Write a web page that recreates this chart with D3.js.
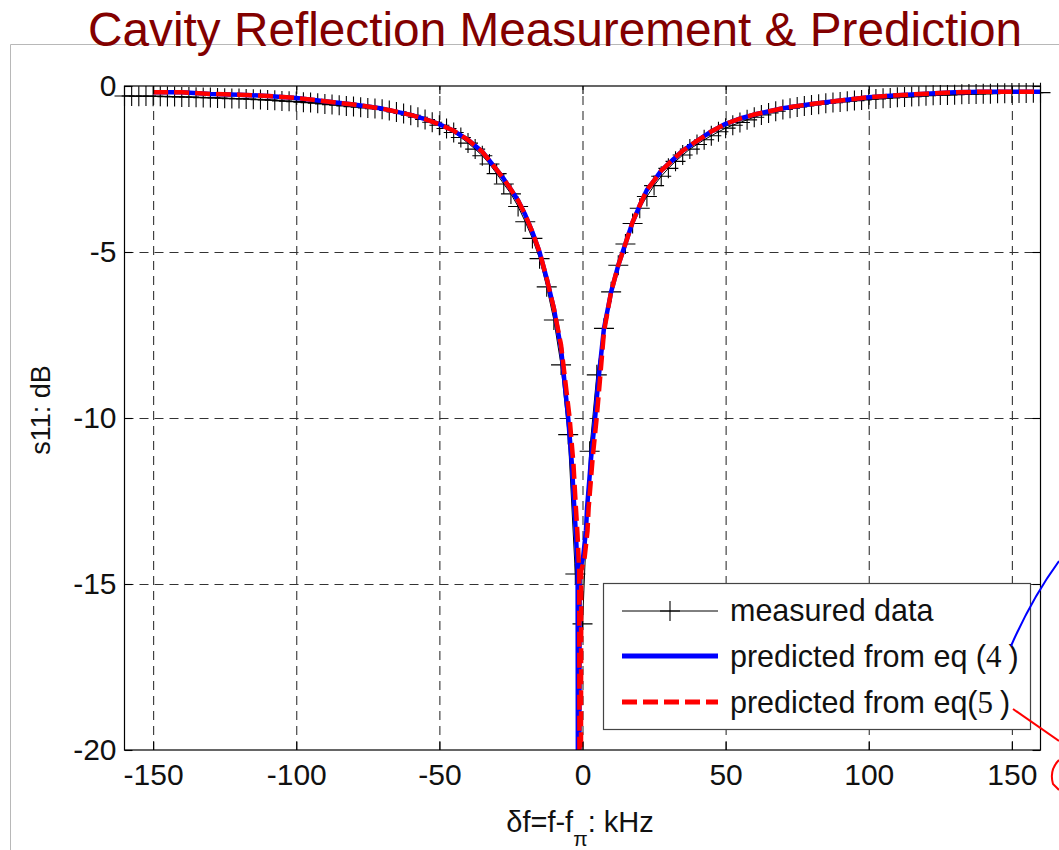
<!DOCTYPE html>
<html>
<head>
<meta charset="utf-8">
<script src="https://cdn.jsdelivr.net/npm/d3@7"></script>
<style>
  body { margin: 0; background: #fff; }
  svg { display: block; }
  text { font-family: "Liberation Sans", Arial, Helvetica, sans-serif; }
</style>
</head>
<body>
<svg id="chart" width="1059" height="850"></svg>
<script>
// ---- tick values ----
const xTicks = [-150, -100, -50, 0, 50, 100, 150];
const yTicks = [0, -5, -10, -15, -20];

// ---- measured reflection s11 (dB) vs frequency offset (kHz) ----
const measuredFreq = [-160,-157.5,-155,-152.5,-150,-147.5,-145,-142.5,-140,-137.5,-135,-132.5,-130,-127.5,-125,-122.5,-120,-117.5,-115,-112.5,-110,-107.5,-105,-102.5,-100,-97.5,-95,-92.5,-90,-87.5,-85,-82.5,-80,-77.5,-75,-72.5,-70,-67.5,-65,-62.5,-60,-57.5,-55,-52.5,-50,-47.5,-45,-42.5,-40,-37.5,-35,-32.5,-30,-27.5,-25,-22.5,-20,-17.5,-15,-12.5,-10,-7.5,-5,-2.5,0,2.5,5,7.5,10,12.5,15,17.5,20,22.5,25,27.5,30,32.5,35,37.5,40,42.5,45,47.5,50,52.5,55,57.5,60,62.5,65,67.5,70,72.5,75,77.5,80,82.5,85,87.5,90,92.5,95,97.5,100,102.5,105,107.5,110,112.5,115,117.5,120,122.5,125,127.5,130,132.5,135,137.5,140,142.5,145,147.5,150,152.5,155,157.5,160];
const measuredDb = [-0.30,-0.30,-0.31,-0.30,-0.31,-0.31,-0.32,-0.32,-0.33,-0.33,-0.34,-0.35,-0.35,-0.36,-0.37,-0.38,-0.38,-0.39,-0.40,-0.41,-0.42,-0.43,-0.45,-0.46,-0.47,-0.49,-0.50,-0.52,-0.54,-0.56,-0.58,-0.60,-0.62,-0.64,-0.66,-0.68,-0.70,
  -0.74,-0.78,-0.83,-0.88,-0.94,-1.01,-1.09,-1.18,-1.28,-1.40,-1.55,-1.72,-1.90,-2.10,-2.35,-2.64,-2.95,-3.25,-3.63,-4.09,-4.59,-5.20,-6.05,-7.05,-8.40,-10.50,-14.70,
  -16.20,
  -11.00,-8.70,-7.30,-6.20,-5.40,-4.76,-4.14,-3.68,-3.33,-3.00,-2.72,-2.48,-2.27,-2.08,-1.90,-1.76,-1.62,-1.50,-1.38,-1.27,-1.18,-1.10,-1.02,-0.94,-0.87,-0.81,-0.76,-0.71,-0.67,-0.63,-0.60,-0.57,-0.55,-0.52,-0.50,-0.48,-0.46,-0.44,-0.42,-0.40,-0.39,-0.37,-0.36,-0.34,-0.33,-0.32,-0.31,-0.29,-0.28,-0.27,-0.27,-0.26,-0.25,-0.24,-0.24,-0.23,-0.23,-0.22,-0.22,-0.21,-0.21,-0.21,-0.20,-0.20];

// ---- prediction from eq (4) ----
const eq4Freq = [-150,-140,-130,-120,-110,-100,-90,-80,-70,-60,-55,-50,-45,-40,-35,-30,-27.5,-25,-22.5,-20,-17.5,-15,-12.5,-10,-7.5,-5,-3.7,-3,-2.3,-1.7,-1.35,-1.0,0.2,1.2,1.6,3.0,4.4,5.5,7.5,10,12.5,15,17.5,20,22.5,25,27.5,30,35,40,45,50,55,60,70,80,90,100,110,120,130,140,150,160];
const eq4Db = [-0.19,-0.19,-0.24,-0.26,-0.30,-0.36,-0.46,-0.56,-0.68,-0.87,-1.00,-1.15,-1.35,-1.62,-1.98,-2.52,-2.80,-3.12,-3.45,-3.88,-4.40,-5.00,-5.80,-6.70,-7.90,-10.00,-11.40,-12.50,-13.50,-14.60,-40,-14.60,-14.20,-13.40,-12.70,-11.20,-10.00,-8.90,-7.30,-6.20,-5.40,-4.75,-4.10,-3.60,-3.13,-2.85,-2.55,-2.35,-1.95,-1.65,-1.37,-1.14,-0.98,-0.86,-0.67,-0.54,-0.44,-0.34,-0.28,-0.23,-0.19,-0.17,-0.17,-0.17];

// ---- prediction from eq (5) ----
const eq5Freq = [-150,-140,-130,-120,-110,-100,-90,-80,-70,-60,-55,-50,-45,-40,-35,-30,-27.5,-25,-22.5,-20,-17.5,-15,-12.5,-10,-7.5,-4.5,-3.15,-2.45,-1.75,-1.15,-0.8,-0.45,0.75,1.75,2.15,3.55,4.95,6.05,7.5,10,12.5,15,17.5,20,22.5,25,27.5,30,35,40,45,50,55,60,70,80,90,100,110,120,130,140,150,160];
const eq5Db = [-0.19,-0.19,-0.24,-0.26,-0.30,-0.36,-0.46,-0.56,-0.68,-0.87,-1.00,-1.15,-1.35,-1.62,-1.98,-2.52,-2.80,-3.12,-3.45,-3.88,-4.40,-5.00,-5.80,-6.70,-7.80,-10.00,-11.40,-12.50,-13.50,-14.60,-40,-14.60,-14.20,-13.40,-12.70,-11.20,-10.00,-8.90,-7.40,-6.20,-5.40,-4.75,-4.10,-3.60,-3.13,-2.85,-2.55,-2.35,-1.95,-1.65,-1.37,-1.14,-0.98,-0.86,-0.67,-0.54,-0.44,-0.34,-0.28,-0.23,-0.19,-0.17,-0.17,-0.17];

const legendLabels = ["measured data", "predicted from eq (", "predicted from eq("];

// ---- layout ----
const svg = d3.select("#chart");
const plot = { left: 124.5, right: 1040.5, top: 86, bottom: 750 };

const x = d3.scaleLinear().domain([-160, 160]).range([plot.left, plot.right]);
const y = d3.scaleLinear().domain([-20, 0]).range([plot.bottom, plot.top]);

const measured = d3.zip(measuredFreq, measuredDb);
const eq4 = d3.zip(eq4Freq, eq4Db);
const eq5 = d3.zip(eq5Freq, eq5Db);

// slide frame lines
svg.append("line").attr("x1", 10.5).attr("x2", 10.5).attr("y1", 44.5).attr("y2", 850)
  .attr("stroke", "#b8b8b8").attr("stroke-width", 1);
svg.append("line").attr("x1", 10.5).attr("x2", 1059).attr("y1", 44.5).attr("y2", 44.5)
  .attr("stroke", "#b8b8b8").attr("stroke-width", 1);

// title
svg.append("text")
  .attr("x", 555).attr("y", 46)
  .attr("text-anchor", "middle")
  .attr("font-size", 47.5)
  .attr("fill", "#820000")
  .attr("textLength", 934).attr("lengthAdjust", "spacingAndGlyphs")
  .text("Cavity Reflection Measurement & Prediction");

// clip region for the plotted curves
svg.append("defs").append("clipPath").attr("id", "plotClip")
  .append("rect")
  .attr("x", plot.left).attr("y", plot.top)
  .attr("width", plot.right - plot.left).attr("height", plot.bottom - plot.top);

// white plot background
svg.append("rect")
  .attr("x", plot.left).attr("y", plot.top)
  .attr("width", plot.right - plot.left).attr("height", plot.bottom - plot.top)
  .attr("fill", "#fff");

// dashed grid
const gridStyle = g => {
  g.select(".domain").remove();
  g.selectAll(".tick line").attr("stroke", "#333").attr("stroke-width", 1.1).attr("stroke-dasharray", "9,6");
  g.selectAll(".tick text").remove();
};
svg.append("g")
  .attr("transform", `translate(0,${plot.bottom})`)
  .call(d3.axisBottom(x).tickValues(xTicks).tickSize(-(plot.bottom - plot.top)).tickFormat(""))
  .call(gridStyle);
svg.append("g")
  .attr("transform", `translate(${plot.left},0)`)
  .call(d3.axisLeft(y).tickValues(yTicks.slice(1, -1)).tickSize(-(plot.right - plot.left)).tickFormat(""))
  .call(gridStyle);

// measured data: thin black line with '+' markers
const line = d3.line().x(d => x(d[0])).y(d => y(d[1]));
svg.append("path")
  .datum(measured)
  .attr("d", line)
  .attr("fill", "none").attr("stroke", "#000").attr("stroke-width", 1);
const plusPath = "M-10,0H10M0,-10V10";
svg.append("g").selectAll("path")
  .data(measured)
  .join("path")
  .attr("transform", d => `translate(${x(d[0])},${y(d[1])})`)
  .attr("d", plusPath)
  .attr("fill", "none").attr("stroke", "#000").attr("stroke-width", 1.1);

// predictions
const curves = svg.append("g").attr("clip-path", "url(#plotClip)");
curves.append("path")
  .datum(eq4)
  .attr("d", line)
  .attr("fill", "none").attr("stroke", "#0000ff").attr("stroke-width", 4.5)
  .attr("stroke-linejoin", "round");
curves.append("path")
  .datum(eq5)
  .attr("d", line)
  .attr("fill", "none").attr("stroke", "#ff0000").attr("stroke-width", 4.5)
  .attr("stroke-dasharray", "15,6");

// axes box
svg.append("rect")
  .attr("x", plot.left).attr("y", plot.top)
  .attr("width", plot.right - plot.left).attr("height", plot.bottom - plot.top)
  .attr("fill", "none").attr("stroke", "#000").attr("stroke-width", 1.2);

// axes with inward ticks and labels
const axisFont = g => {
  g.select(".domain").remove();
  g.selectAll(".tick line").attr("stroke", "#000").attr("stroke-width", 1.1);
  g.selectAll(".tick text").attr("fill", "#111")
    .attr("font-size", 30).attr("font-family", '"Liberation Sans", Arial, sans-serif');
};
svg.append("g")
  .attr("transform", `translate(0,${plot.bottom})`)
  .call(d3.axisBottom(x).tickValues(xTicks).tickSize(-8).tickPadding(14).tickFormat(d => String(d)))
  .call(axisFont);
svg.append("g")
  .attr("transform", `translate(0,${plot.top})`)
  .call(d3.axisTop(x).tickValues(xTicks).tickSize(-8).tickFormat(""))
  .call(axisFont);
svg.append("g")
  .attr("transform", `translate(${plot.left},0)`)
  .call(d3.axisLeft(y).tickValues(yTicks).tickSize(-8).tickPadding(8).tickFormat(d => String(d)))
  .call(axisFont);
svg.append("g")
  .attr("transform", `translate(${plot.right},0)`)
  .call(d3.axisRight(y).tickValues(yTicks).tickSize(-8).tickFormat(""))
  .call(axisFont);

// axis titles
svg.append("text")
  .attr("transform", "translate(50,410) rotate(-90)")
  .attr("text-anchor", "middle")
  .attr("font-size", 27).attr("fill", "#111")
  .text("s11: dB");

const xl = svg.append("text")
  .attr("x", 580).attr("y", 832)
  .attr("text-anchor", "middle")
  .attr("font-size", 29).attr("fill", "#111");
xl.append("tspan").text("δf=f-f");
xl.append("tspan").attr("dy", 14).attr("font-size", 21).text("π");
xl.append("tspan").attr("dy", -14).text(": kHz");

// legend
const lg = svg.append("g");
lg.append("rect")
  .attr("x", 603.5).attr("y", 583.5).attr("width", 427).attr("height", 146)
  .attr("fill", "#fff").attr("stroke", "#444").attr("stroke-width", 1.2);
const rows = [611, 656, 702];
const lx0 = 622, lx1 = 718, tx = 730;
// measured sample
lg.append("line").attr("x1", lx0).attr("x2", lx1).attr("y1", rows[0]).attr("y2", rows[0])
  .attr("stroke", "#000").attr("stroke-width", 1);
lg.append("path").attr("transform", `translate(${(lx0 + lx1) / 2},${rows[0]})`)
  .attr("d", plusPath).attr("stroke", "#000").attr("stroke-width", 1.1);
// eq4 sample
lg.append("line").attr("x1", lx0).attr("x2", lx1).attr("y1", rows[1]).attr("y2", rows[1])
  .attr("stroke", "#0000ff").attr("stroke-width", 5);
// eq5 sample
lg.append("line").attr("x1", lx0).attr("x2", lx1).attr("y1", rows[2]).attr("y2", rows[2])
  .attr("stroke", "#ff0000").attr("stroke-width", 5).attr("stroke-dasharray", "15,6");

lg.append("text").attr("x", tx).attr("y", rows[0] + 10).attr("font-size", 30.5).attr("fill", "#111")
  .text(legendLabels[0]);
const t4 = lg.append("text").attr("x", tx).attr("y", rows[1] + 11).attr("font-size", 30.5).attr("fill", "#111");
t4.append("tspan").text(legendLabels[1]);
t4.append("tspan").attr("font-family", '"Liberation Serif", "Times New Roman", serif').attr("font-size", 31).text("4");
t4.append("tspan").attr("dx", 7).text(")");
const t5 = lg.append("text").attr("x", tx).attr("y", rows[2] + 11).attr("font-size", 30.5).attr("fill", "#111");
t5.append("tspan").text(legendLabels[2]);
t5.append("tspan").attr("font-family", '"Liberation Serif", "Times New Roman", serif').attr("font-size", 31).text("5");
t5.append("tspan").attr("dx", 7).text(")");

// callout strokes leading off the slide edge
svg.append("path").attr("d", "M1011,646 Q1032,598 1059,561")
  .attr("fill", "none").attr("stroke", "#0000ff").attr("stroke-width", 2);
svg.append("path").attr("d", "M1013,709 L1059,741")
  .attr("fill", "none").attr("stroke", "#ff0000").attr("stroke-width", 2);
svg.append("path").attr("d", "M1059,760 Q1049,770 1053,784 L1059,790")
  .attr("fill", "none").attr("stroke", "#ff0000").attr("stroke-width", 2);
</script>
</body>
</html>
